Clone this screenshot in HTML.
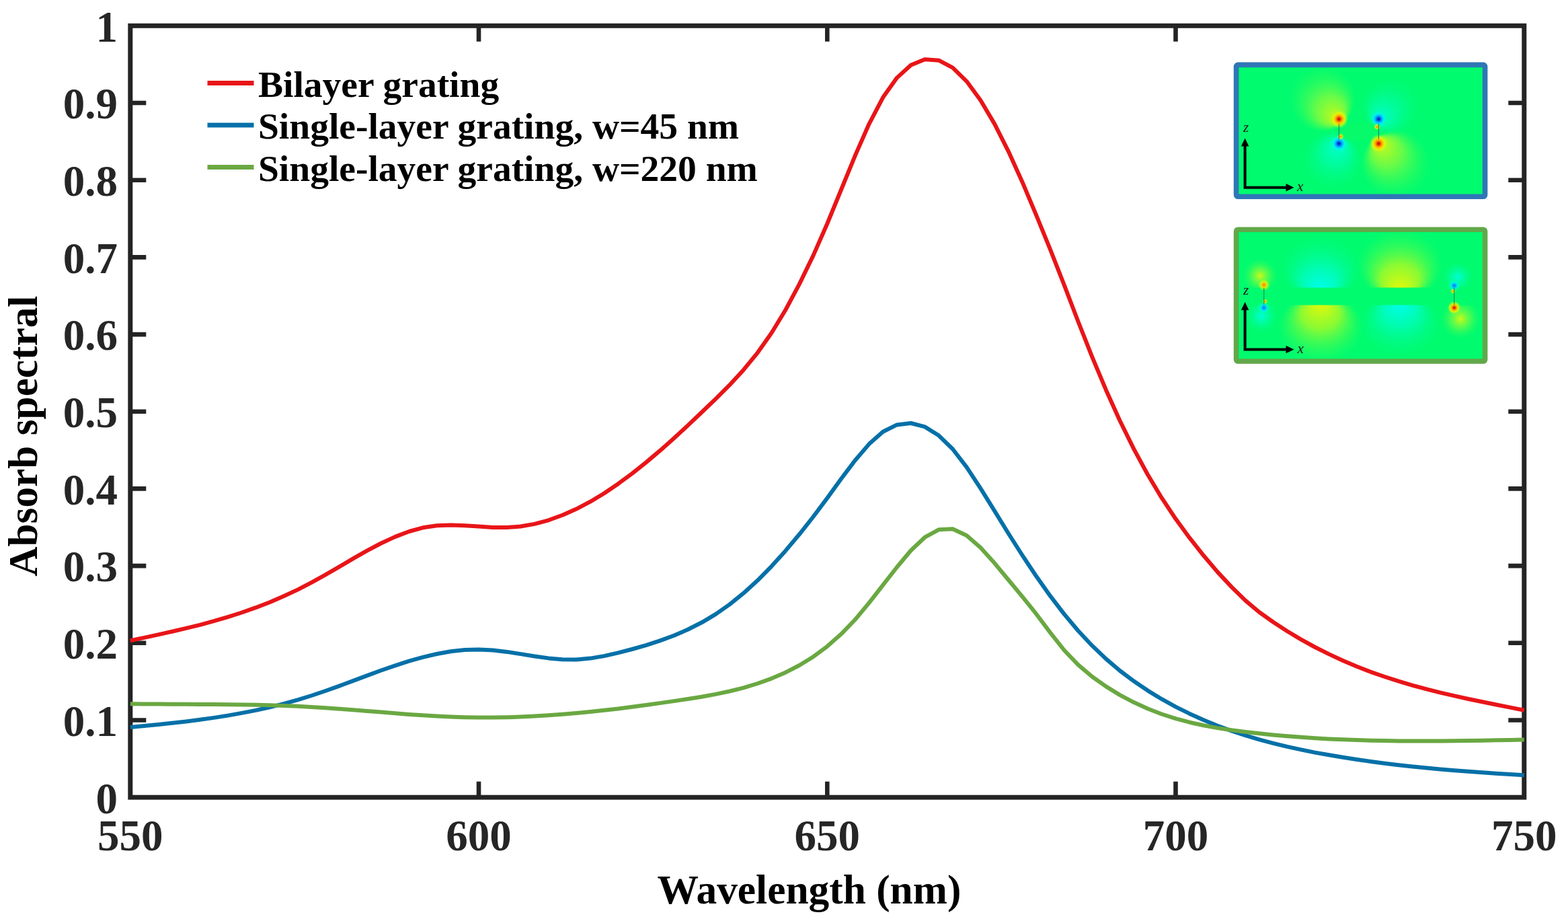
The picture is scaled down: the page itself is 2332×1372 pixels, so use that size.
<!DOCTYPE html>
<html lang="en"><head><meta charset="utf-8"><title>Absorb spectral vs Wavelength</title>
<style>html,body{margin:0;padding:0;background:#fff;}body{width:2332px;height:1372px;overflow:hidden;}svg{display:block;}text{font-family:"Liberation Serif","Times New Roman",serif;font-weight:bold;}</style>
</head><body>
<svg xmlns="http://www.w3.org/2000/svg" width="2332" height="1372" viewBox="0 0 2332 1372">
<defs>
<filter id="soft" x="-5%" y="-5%" width="110%" height="110%"><feGaussianBlur stdDeviation="1.3"/></filter>
<clipPath id="c1"><rect x="1838.6" y="96.4" width="370" height="195.8"/></clipPath>
<clipPath id="c2"><rect x="1838.6" y="341.2" width="370" height="195.8"/></clipPath>
<clipPath id="c2a"><rect x="1838.6" y="341.2" width="370" height="86.3"/></clipPath>
<clipPath id="c2b"><rect x="1838.6" y="453.4" width="370" height="84"/></clipPath>
<radialGradient id="ly_ul" cx="0.5" cy="0.5" r="0.5" fx="0.74" fy="0.84"><stop offset="0" stop-color="#d8f810" stop-opacity="1.0"/><stop offset="0.45" stop-color="#88fb3c" stop-opacity="0.75"/><stop offset="1" stop-color="#30fb60" stop-opacity="0"/></radialGradient>
<radialGradient id="ly_lr" cx="0.5" cy="0.5" r="0.5" fx="0.26" fy="0.16"><stop offset="0" stop-color="#d8f810" stop-opacity="1.0"/><stop offset="0.45" stop-color="#88fb3c" stop-opacity="0.75"/><stop offset="1" stop-color="#30fb60" stop-opacity="0"/></radialGradient>
<radialGradient id="lc_ur" cx="0.5" cy="0.5" r="0.5" fx="0.28" fy="0.76"><stop offset="0" stop-color="#00fee0" stop-opacity="0.95"/><stop offset="0.45" stop-color="#00fdb0" stop-opacity="0.6"/><stop offset="1" stop-color="#00fb80" stop-opacity="0"/></radialGradient>
<radialGradient id="lc_ll" cx="0.5" cy="0.5" r="0.5" fx="0.62" fy="0.2"><stop offset="0" stop-color="#00fee0" stop-opacity="0.95"/><stop offset="0.45" stop-color="#00fdb0" stop-opacity="0.7"/><stop offset="1" stop-color="#00fb80" stop-opacity="0"/></radialGradient>
<radialGradient id="ly_up" cx="0.5" cy="0.5" r="0.5" fx="0.5" fy="0.92"><stop offset="0" stop-color="#f6f800" stop-opacity="1.0"/><stop offset="0.45" stop-color="#a4fa28" stop-opacity="0.85"/><stop offset="1" stop-color="#30fb60" stop-opacity="0"/></radialGradient>
<radialGradient id="ly_dn" cx="0.5" cy="0.5" r="0.5" fx="0.5" fy="0.08"><stop offset="0" stop-color="#f6f800" stop-opacity="1.0"/><stop offset="0.45" stop-color="#a4fa28" stop-opacity="0.85"/><stop offset="1" stop-color="#30fb60" stop-opacity="0"/></radialGradient>
<radialGradient id="lc_up" cx="0.5" cy="0.5" r="0.5" fx="0.5" fy="0.92"><stop offset="0" stop-color="#00fcff" stop-opacity="1.0"/><stop offset="0.45" stop-color="#00fdc0" stop-opacity="0.8"/><stop offset="1" stop-color="#00fb80" stop-opacity="0"/></radialGradient>
<radialGradient id="lc_dn" cx="0.5" cy="0.5" r="0.5" fx="0.5" fy="0.08"><stop offset="0" stop-color="#00fcff" stop-opacity="1.0"/><stop offset="0.45" stop-color="#00fdc0" stop-opacity="0.8"/><stop offset="1" stop-color="#00fb80" stop-opacity="0"/></radialGradient>
<radialGradient id="ly_c" cx="0.5" cy="0.5" r="0.5" fx="0.5" fy="0.5"><stop offset="0" stop-color="#d8f810" stop-opacity="0.95"/><stop offset="0.45" stop-color="#88fb3c" stop-opacity="0.6"/><stop offset="1" stop-color="#30fb60" stop-opacity="0"/></radialGradient>
<radialGradient id="lc_c" cx="0.5" cy="0.5" r="0.5" fx="0.5" fy="0.5"><stop offset="0" stop-color="#00fee0" stop-opacity="0.95"/><stop offset="0.45" stop-color="#00fdb0" stop-opacity="0.6"/><stop offset="1" stop-color="#00fb80" stop-opacity="0"/></radialGradient>
<radialGradient id="hot"><stop offset="0" stop-color="#b80800"/><stop offset="0.16" stop-color="#ee3800"/><stop offset="0.36" stop-color="#ffa800" stop-opacity="0.97"/><stop offset="0.62" stop-color="#f0f400" stop-opacity="0.85"/><stop offset="1" stop-color="#a0fa30" stop-opacity="0"/></radialGradient>
<radialGradient id="cold"><stop offset="0" stop-color="#001898"/><stop offset="0.16" stop-color="#0048e0"/><stop offset="0.36" stop-color="#00a8ff" stop-opacity="0.97"/><stop offset="0.62" stop-color="#00f4f4" stop-opacity="0.85"/><stop offset="1" stop-color="#00fcb0" stop-opacity="0"/></radialGradient>
<radialGradient id="hot2"><stop offset="0" stop-color="#f07000"/><stop offset="0.3" stop-color="#ffc400" stop-opacity="0.95"/><stop offset="0.6" stop-color="#e8f800" stop-opacity="0.7"/><stop offset="1" stop-color="#90fa38" stop-opacity="0"/></radialGradient>
<radialGradient id="cold2"><stop offset="0" stop-color="#0068f0"/><stop offset="0.3" stop-color="#00b8ff" stop-opacity="0.95"/><stop offset="0.6" stop-color="#00f8f0" stop-opacity="0.7"/><stop offset="1" stop-color="#00fcb0" stop-opacity="0"/></radialGradient>
</defs>

<rect x="0" y="0" width="2332" height="1372" fill="#ffffff"/>
<g id="inset-top">
<rect x="1838.6" y="96.4" width="370" height="195.8" fill="#00fb6e"/>
<g clip-path="url(#c1)">
<circle cx="1966" cy="146" r="50" fill="url(#ly_ul)"/>
<circle cx="2076" cy="245" r="52" fill="url(#ly_lr)"/>
<circle cx="2070" cy="156" r="46" fill="url(#lc_ur)"/>
<circle cx="1981" cy="240" r="46" fill="url(#lc_ll)"/>
<rect x="1992.5" y="183" width="57" height="25.5" fill="#06fa6a"/>
<circle cx="1991.4" cy="177" r="14" fill="url(#hot)"/>
<circle cx="2050.4" cy="213.5" r="14" fill="url(#hot)"/>
<circle cx="2050.4" cy="177" r="13" fill="url(#cold)"/>
<circle cx="1991.4" cy="213.5" r="13" fill="url(#cold)"/>
<circle cx="1993.8" cy="203" r="5" fill="url(#hot2)"/>
<circle cx="2048" cy="188.5" r="5" fill="url(#hot2)"/>
<path d="M1991.4,184 V207 M2050.4,184 V207" stroke="#0c5c50" stroke-width="1.1" fill="none" opacity="0.75"/>
</g>
<path d="M1851.6,214 V278.7 H1915" stroke="#000" stroke-width="4" fill="none" stroke-linejoin="miter"/>
<path d="M1851.6,205.5 L1857.4,217.5 H1845.8 Z M1924.5,278.7 L1912.5,272.9 V284.5 Z" fill="#000"/>
<text x="1849" y="196" font-size="21px" fill="#181818" style="font-weight:normal;font-style:italic">z</text>
<text x="1929" y="284" font-size="21px" fill="#181818" style="font-weight:normal;font-style:italic">x</text>
<rect x="1838.6" y="96.4" width="370" height="195.8" rx="2.5" fill="none" stroke="#2f76b7" stroke-width="7.6"/>
</g>
<g id="inset-bottom">
<rect x="1838.6" y="341.2" width="370" height="195.8" fill="#00fb6e"/>
<g clip-path="url(#c2a)">
<ellipse cx="1964" cy="396" rx="62" ry="50" fill="url(#lc_up)"/>
<ellipse cx="2082" cy="392" rx="64" ry="54" fill="url(#ly_up)"/>
<circle cx="1874" cy="410" r="26" fill="url(#ly_c)"/>
<circle cx="2168" cy="412" r="24" fill="url(#lc_c)"/>
</g>
<g clip-path="url(#c2b)">
<ellipse cx="1964" cy="489" rx="64" ry="54" fill="url(#ly_dn)"/>
<ellipse cx="2082" cy="485" rx="62" ry="50" fill="url(#lc_dn)"/>
<circle cx="1876" cy="470" r="26" fill="url(#lc_c)"/>
<circle cx="2172" cy="474" r="30" fill="url(#ly_c)"/>
</g>
<g clip-path="url(#c2)">
<circle cx="1879.8" cy="423.5" r="9" fill="url(#hot2)"/>
<circle cx="1879.8" cy="457.4" r="9" fill="url(#cold2)"/>
<circle cx="2162.8" cy="424.5" r="9" fill="url(#cold2)"/>
<circle cx="2162.8" cy="457.4" r="10" fill="url(#hot)"/>
<circle cx="1881.5" cy="448" r="4" fill="url(#hot2)"/>
<circle cx="2161" cy="433" r="4" fill="url(#hot2)"/>
<path d="M1879.8,428 V453 M2162.8,428 V453" stroke="#0c5c50" stroke-width="1.1" fill="none" opacity="0.75"/>
</g>
<path d="M1851.6,458 V519.5 H1915" stroke="#000" stroke-width="4" fill="none" stroke-linejoin="miter"/>
<path d="M1851.6,449 L1857.4,461 H1845.8 Z M1924.5,519.5 L1912.5,513.7 V525.3 Z" fill="#000"/>
<text x="1849" y="438" font-size="21px" fill="#181818" style="font-weight:normal;font-style:italic">z</text>
<text x="1929.5" y="525" font-size="21px" fill="#181818" style="font-weight:normal;font-style:italic">x</text>
<rect x="1838.6" y="341.2" width="370" height="195.8" rx="2.5" fill="none" stroke="#62a84a" stroke-width="7.6"/>
</g>

<g stroke="#242424" fill="none">
<rect x="193.8" y="38.3" width="2073.0" height="1146.9" stroke-width="7.0"/>
<path stroke-width="6.6" d="M712.0,1185.2 V1161.7 M712.0,38.3 V61.8 M1230.3,1185.2 V1161.7 M1230.3,38.3 V61.8 M1748.5,1185.2 V1161.7 M1748.5,38.3 V61.8 M193.8,1070.5 H217.3 M2266.8,1070.5 H2243.3 M193.8,955.8 H217.3 M2266.8,955.8 H2243.3 M193.8,841.1 H217.3 M2266.8,841.1 H2243.3 M193.8,726.4 H217.3 M2266.8,726.4 H2243.3 M193.8,611.8 H217.3 M2266.8,611.8 H2243.3 M193.8,497.1 H217.3 M2266.8,497.1 H2243.3 M193.8,382.4 H217.3 M2266.8,382.4 H2243.3 M193.8,267.7 H217.3 M2266.8,267.7 H2243.3 M193.8,153.0 H217.3 M2266.8,153.0 H2243.3"/>
</g>
<g fill="none" stroke-width="6.0" stroke-linejoin="round" stroke-linecap="butt">
<path stroke="#e81518" d="M193.8,952.3 L214.5,947.9 L235.3,943.4 L256.0,938.8 L276.7,933.9 L297.5,928.8 L318.2,923.2 L338.9,917.1 L359.6,910.5 L380.4,903.2 L401.1,895.2 L421.8,886.3 L442.6,876.6 L463.3,865.9 L484.0,854.4 L504.8,842.3 L525.5,830.2 L546.2,818.4 L566.9,807.5 L587.7,797.9 L608.4,790.0 L629.1,784.3 L649.9,781.2 L670.6,780.4 L691.3,781.2 L712.0,782.6 L732.8,783.9 L753.5,784.1 L774.2,782.5 L795.0,778.9 L815.7,773.3 L836.4,765.8 L857.2,756.6 L877.9,745.7 L898.6,733.2 L919.3,719.2 L940.1,703.9 L960.8,687.4 L981.5,669.9 L1002.3,651.5 L1023.0,632.4 L1043.7,612.8 L1064.5,592.8 L1085.2,572.2 L1105.9,549.7 L1126.7,524.3 L1147.4,495.0 L1168.1,461.0 L1188.8,422.4 L1209.6,379.6 L1230.3,332.5 L1251.0,282.0 L1271.8,231.3 L1292.5,184.3 L1313.2,144.8 L1334.0,115.6 L1354.7,96.8 L1375.4,88.3 L1396.1,89.7 L1416.9,100.7 L1437.6,120.8 L1458.3,149.0 L1479.1,184.1 L1499.8,225.1 L1520.5,270.7 L1541.2,319.9 L1562.0,370.9 L1582.7,423.6 L1603.4,477.7 L1624.2,530.3 L1644.9,579.7 L1665.6,625.5 L1686.4,667.6 L1707.1,705.8 L1727.8,740.2 L1748.5,771.3 L1769.3,799.7 L1790.0,825.8 L1810.7,850.1 L1831.5,872.4 L1852.2,892.6 L1872.9,910.0 L1893.7,924.8 L1914.4,938.2 L1935.1,950.6 L1955.8,962.0 L1976.6,972.4 L1997.3,982.0 L2018.0,990.8 L2038.8,998.8 L2059.5,1006.0 L2080.2,1012.7 L2101.0,1018.8 L2121.7,1024.4 L2142.4,1029.6 L2163.2,1034.4 L2183.9,1039.0 L2204.6,1043.3 L2225.3,1047.5 L2246.1,1051.6 L2266.8,1055.7"/>
<path stroke="#0570a8" d="M193.8,1081.1 L214.5,1079.1 L235.3,1077.0 L256.0,1074.8 L276.7,1072.4 L297.5,1069.8 L318.2,1066.9 L338.9,1063.6 L359.6,1059.9 L380.4,1055.9 L401.1,1051.3 L421.8,1046.1 L442.6,1040.4 L463.3,1034.0 L484.0,1027.0 L504.8,1019.6 L525.5,1011.9 L546.2,1004.1 L566.9,996.5 L587.7,989.3 L608.4,982.7 L629.1,976.9 L649.9,972.0 L670.6,968.3 L691.3,966.1 L712.0,965.4 L732.8,966.5 L753.5,968.9 L774.2,972.1 L795.0,975.5 L815.7,978.4 L836.4,980.2 L857.2,980.4 L877.9,978.6 L898.6,975.1 L919.3,970.4 L940.1,965.0 L960.8,959.1 L981.5,952.4 L1002.3,944.8 L1023.0,935.8 L1043.7,925.3 L1064.5,912.9 L1085.2,898.4 L1105.9,881.7 L1126.7,862.8 L1147.4,841.8 L1168.1,818.9 L1188.8,794.3 L1209.6,768.0 L1230.3,740.4 L1251.0,711.8 L1271.8,684.2 L1292.5,660.1 L1313.2,641.8 L1334.0,631.4 L1354.7,629.0 L1375.4,634.4 L1396.1,647.3 L1416.9,667.5 L1437.6,694.3 L1458.3,725.8 L1479.1,759.4 L1499.8,793.0 L1520.5,825.5 L1541.2,856.6 L1562.0,885.9 L1582.7,912.9 L1603.4,937.5 L1624.2,959.7 L1644.9,979.4 L1665.6,997.0 L1686.4,1012.6 L1707.1,1026.6 L1727.8,1039.2 L1748.5,1050.6 L1769.3,1060.9 L1790.0,1070.3 L1810.7,1078.8 L1831.5,1086.4 L1852.2,1093.2 L1872.9,1099.4 L1893.7,1104.9 L1914.4,1109.9 L1935.1,1114.4 L1955.8,1118.6 L1976.6,1122.3 L1997.3,1125.8 L2018.0,1129.0 L2038.8,1132.0 L2059.5,1134.7 L2080.2,1137.2 L2101.0,1139.4 L2121.7,1141.5 L2142.4,1143.4 L2163.2,1145.2 L2183.9,1146.8 L2204.6,1148.3 L2225.3,1149.7 L2246.1,1151.0 L2266.8,1152.3"/>
<path stroke="#6aa842" d="M193.8,1046.2 L214.5,1046.4 L235.3,1046.6 L256.0,1046.7 L276.7,1046.8 L297.5,1046.9 L318.2,1047.0 L338.9,1047.2 L359.6,1047.4 L380.4,1047.8 L401.1,1048.3 L421.8,1049.0 L442.6,1049.8 L463.3,1050.9 L484.0,1052.2 L504.8,1053.7 L525.5,1055.3 L546.2,1056.9 L566.9,1058.6 L587.7,1060.3 L608.4,1061.9 L629.1,1063.3 L649.9,1064.6 L670.6,1065.6 L691.3,1066.3 L712.0,1066.6 L732.8,1066.6 L753.5,1066.3 L774.2,1065.6 L795.0,1064.6 L815.7,1063.3 L836.4,1061.8 L857.2,1060.0 L877.9,1058.0 L898.6,1055.8 L919.3,1053.4 L940.1,1050.8 L960.8,1048.0 L981.5,1045.1 L1002.3,1042.1 L1023.0,1039.0 L1043.7,1035.7 L1064.5,1031.9 L1085.2,1027.5 L1105.9,1022.3 L1126.7,1016.0 L1147.4,1008.6 L1168.1,999.7 L1188.8,989.0 L1209.6,976.2 L1230.3,960.8 L1251.0,942.6 L1271.8,921.0 L1292.5,896.2 L1313.2,869.7 L1334.0,843.0 L1354.7,818.3 L1375.4,798.7 L1396.1,787.3 L1416.9,786.2 L1437.6,796.0 L1458.3,814.0 L1479.1,837.1 L1499.8,862.0 L1520.5,886.9 L1541.2,912.7 L1562.0,940.4 L1582.7,966.5 L1603.4,988.1 L1624.2,1005.7 L1644.9,1020.4 L1665.6,1033.1 L1686.4,1044.1 L1707.1,1053.5 L1727.8,1061.5 L1748.5,1068.1 L1769.3,1073.7 L1790.0,1078.3 L1810.7,1082.1 L1831.5,1085.3 L1852.2,1088.0 L1872.9,1090.3 L1893.7,1092.4 L1914.4,1094.2 L1935.1,1095.8 L1955.8,1097.2 L1976.6,1098.4 L1997.3,1099.3 L2018.0,1100.1 L2038.8,1100.7 L2059.5,1101.1 L2080.2,1101.4 L2101.0,1101.6 L2121.7,1101.6 L2142.4,1101.5 L2163.2,1101.3 L2183.9,1101.1 L2204.6,1100.7 L2225.3,1100.3 L2246.1,1099.9 L2266.8,1099.4"/>
</g>
<g fill="#262626" font-size="65px">
<g text-anchor="end">
<text x="175.0" y="1208.5">0</text>
<text x="175.0" y="1093.8">0.1</text>
<text x="175.0" y="979.1">0.2</text>
<text x="175.0" y="864.4">0.3</text>
<text x="175.0" y="749.7">0.4</text>
<text x="175.0" y="635.0">0.5</text>
<text x="175.0" y="520.4">0.6</text>
<text x="175.0" y="405.7">0.7</text>
<text x="175.0" y="291.0">0.8</text>
<text x="175.0" y="176.3">0.9</text>
<text x="175.0" y="61.6">1</text>
</g>
<g text-anchor="middle">
<text x="193.8" y="1263.8">550</text>
<text x="712.0" y="1263.8">600</text>
<text x="1230.3" y="1263.8">650</text>
<text x="1748.5" y="1263.8">700</text>
<text x="2266.8" y="1263.8">750</text>
</g></g>
<g fill="#000000">
<text x="1203.4" y="1343.2" text-anchor="middle" font-size="61.4px">Wavelength (nm)</text>
<text transform="translate(55.3,648.2) rotate(-90)" text-anchor="middle" font-size="61.3px">Absorb spectral</text>
</g>
<g stroke-width="7" fill="none">
<path stroke="#e81518" d="M308.5,123.4 H377.5"/>
<path stroke="#0570a8" d="M308.5,186.0 H377.5"/>
<path stroke="#6aa842" d="M308.5,248.6 H377.5"/>
</g>
<g fill="#000000" font-size="55.5px">
<text x="384" y="143.5">Bilayer grating</text>
<text x="384" y="206.0">Single-layer grating, w=45 nm</text>
<text x="384" y="268.5">Single-layer grating, w=220 nm</text>
</g>
</svg></body></html>
